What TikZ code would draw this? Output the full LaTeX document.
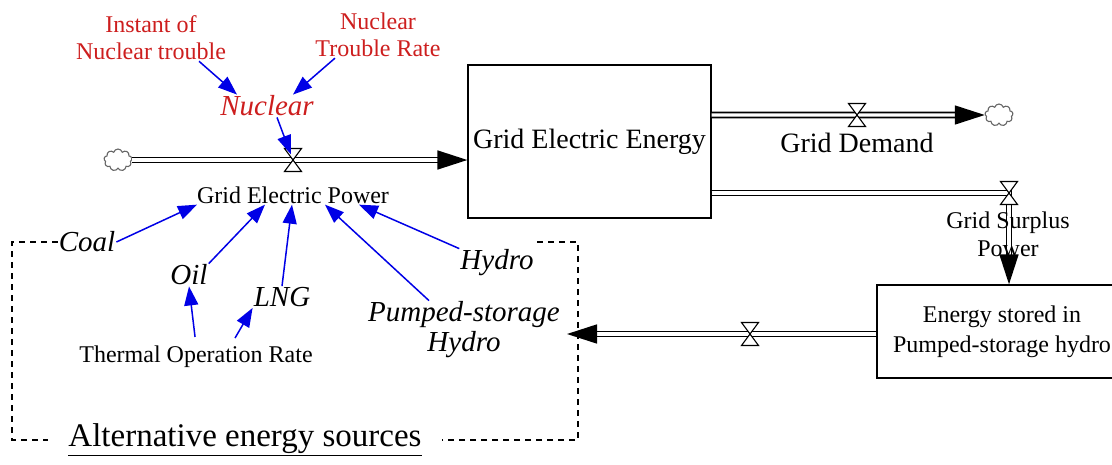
\documentclass[tikz,border=0pt]{standalone}
\usepackage{fontspec}
\setmainfont{Liberation Serif}
\usepackage{xcolor}
\usetikzlibrary{arrows.meta,positioning,calc,shapes.symbols}
\definecolor{auxred}{RGB}{205,30,30}
\definecolor{linkblue}{RGB}{0,0,230}
\tikzset{
  pipe/.style={line width=1.6pt,double=white,double distance=3.4pt},
  flowtip/.style={-{Triangle[length=30pt,width=19pt]}},
  link/.style={linkblue,line width=1.5pt,-{Triangle[length=19pt,width=14pt]}},
  stock/.style={draw,line width=1.3pt,inner sep=0pt},
  txt/.style={font=\fontsize{24}{28}\selectfont,align=center,inner sep=1pt},
  bigtxt/.style={font=\fontsize{28}{30}\selectfont,inner sep=1pt},
  var/.style={font=\fontsize{29}{30}\selectfont\itshape,align=center,inner sep=1pt},
  sink/.style={cloud,cloud puffs=9,cloud ignores aspect,draw=gray!80!black,line width=1.1pt,minimum width=28pt,minimum height=22pt,inner sep=0pt},
  grouping/.style={line width=1.2pt,dash pattern=on 6pt off 5pt},
  valve/.pic={\filldraw[fill=white,line width=1.1pt] (-8.5,-11.5)--(8.5,-11.5)--(-8.5,11.5)--(8.5,11.5)--cycle;}
}
\begin{document}
\begin{tikzpicture}[x=1pt,y=-1pt]
  \useasboundingbox (0,0) rectangle (1112,464);
  % stocks and sinks
  \node[stock,bigtxt,minimum width=243pt,minimum height=153pt] (gee) at (589.5,141.5) {Grid Electric Energy};
  \node[stock,txt,font=\fontsize{24}{30}\selectfont,minimum width=250pt,minimum height=93pt] (esp) at (1002,331.5) {Energy stored in\\Pumped-storage hydro};
  \node[sink] (sinkL) at (118,160) {};
  \node[sink] (sinkR) at (999,115) {};
  \coordinate (v1) at (293,160);
  \coordinate (dv) at (857,115);
  \coordinate (sv) at (1009,193);
  \coordinate (bv) at (750,334);
  \coordinate (pin) at (567,334);
  % flows
  \draw[pipe,flowtip] (sinkL.east) -- (sinkL.east -| gee.west);
  \draw[pipe,flowtip] (gee.east |- sinkR) -- (sinkR.west);
  \draw[pipe,flowtip] (gee.east |- sv) -- (sv) -- (sv |- esp.north);
  \draw[pipe,flowtip] (esp.west |- pin) -- (pin);
  \pic at (v1) {valve};
  \pic at (dv) {valve};
  \pic at (sv) {valve};
  \pic at (bv) {valve};
  \node[txt] (gep) at (293,195) {Grid Electric Power};
  \node[bigtxt] (gdm) at (857,143) {Grid Demand};
  \node[txt] (gsp) at (1008,234) {Grid Surplus\\Power};
  % auxiliaries
  \node[txt,auxred,font=\fontsize{24}{27}\selectfont] (instant) at (151,38) {Instant of\\Nuclear trouble};
  \node[txt,auxred,font=\fontsize{24}{27}\selectfont] (ntr) at (378,35) {Nuclear\\Trouble Rate};
  \node[var,auxred] (nuclear) at (267,106) {Nuclear};
  \node[var] (coal) at (87,242) {Coal};
  \node[var] (oil) at (189,275) {Oil};
  \node[var] (lng) at (282,297) {LNG};
  \node[var] (hydro) at (497,263) {Hydro};
  \node[var] (pumped) at (464,330) {Pumped-storage\\Hydro};
  \node[txt] (thermal) at (196,357) {Thermal Operation Rate};
  \node[font=\fontsize{33}{36}\selectfont,inner xsep=20pt,inner ysep=0pt] (alt) at (245,440) {\underline{Alternative energy sources}};
  \draw[link] ([xshift=48pt]instant.south) -- ([xshift=-30pt]nuclear.north);
  \draw[link] ([xshift=-43pt]ntr.south) -- ([xshift=26pt]nuclear.north);
  \draw[link,shorten >=6pt] ([xshift=10pt]nuclear.south) -- (v1);
  \draw[link] (coal.east) -- ([xshift=-96pt]gep.south);
  \draw[link] (oil.north east) -- ([xshift=-28pt]gep.south);
  \draw[link] (lng.north) -- ([xshift=-1pt]gep.south);
  \draw[link] ([xshift=-35pt]pumped.north) -- ([xshift=32pt]gep.south);
  \draw[link] (hydro.north west) -- ([xshift=66pt]gep.south);
  \draw[link,shorten <=8pt] (thermal.north) -- (oil.south);
  \draw[link,shorten <=8pt] ([xshift=35pt]thermal.north) -- (lng.south west);
  \draw[grouping] (coal.west) -- (12,242) -- (12,440) -- (alt.west);
  \draw[grouping] (537,242) -- (578,242) -- (578,440) -- (alt.east);
\end{tikzpicture}
\end{document}
